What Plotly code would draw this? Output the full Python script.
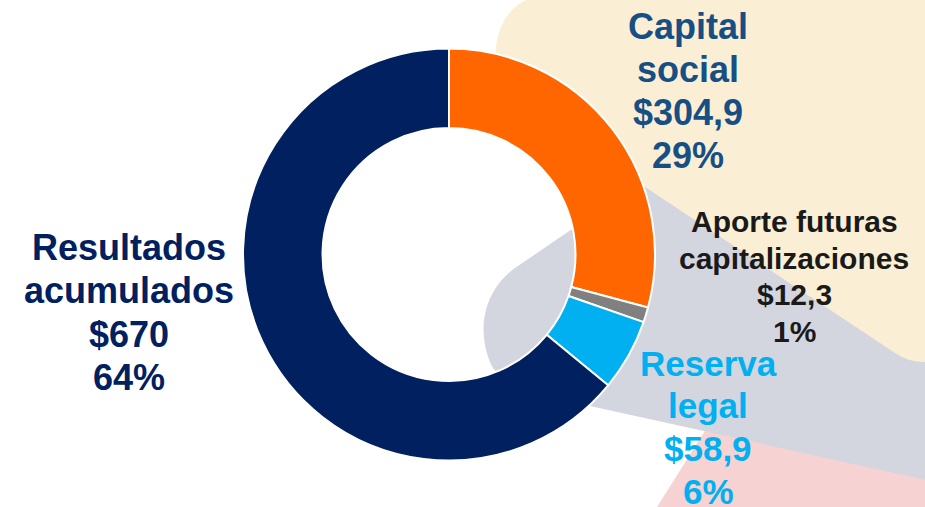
import plotly.graph_objects as go

W, H = 925, 507

# ---- data ----
labels = ["Capital social", "Aporte futuras capitalizaciones", "Reserva legal", "Resultados acumulados"]
label_lines = [["Capital", "social"], ["Aporte futuras", "capitalizaciones"], ["Reserva", "legal"], ["Resultados", "acumulados"]]
values = [304.9, 12.3, 58.9, 670]
colors = ["#FF6600", "#808080", "#00B0F0", "#002060"]
text_colors = ["#174F85", "#1A1A1A", "#00B0F0", "#002060"]

total = sum(values)


def px(x, y):
    return x / W, 1 - y / H


def fmt_money(v):
    if abs(v - round(v)) < 1e-9:
        return "$" + str(int(round(v)))
    return "$" + ("%.1f" % v).replace(".", ",")


fig = go.Figure()

# Pie geometry (pixels)
cx, cy, R = 449, 254.5, 206
x0, y1 = px(cx - R, cy - R)
x1, y0 = px(cx + R, cy + R)

fig.add_trace(go.Pie(
    labels=labels, values=values, sort=False, direction="clockwise", rotation=0,
    hole=0.614, marker=dict(colors=colors, line=dict(color="white", width=2)),
    textinfo="none", hoverinfo="none", showlegend=False,
    domain=dict(x=[x0, x1], y=[y0, y1]),
))


def svg_path(cmds):
    out = []
    for c in cmds:
        if isinstance(c, str):
            out.append(c)
        else:
            X, Y = px(*c)
            out.append("%.5f,%.5f" % (X, Y))
    return " ".join(out)


# decorative background shapes (pixel coordinates converted to paper)
pink = ["M", (652, 515), "L", (713, 418), "L", (935, 418), "L", (935, 515), "Z"]
gray = ["M", (515, 268), "L", (600, 210), "L", (700, 150), "L", (935, 300), "L", (935, 482),
        "L", (590, 406), "L", (520, 400), "L", (493, 368),
        "C", (478, 340), (478, 295), (515, 268), "Z"]
beige = ["M", (495, 100), "L", (495, 62), "Q", (495, -8), (565, -8), "L", (935, -8), "L", (935, 362),
         "L", (925, 362), "Q", (908, 362), (895, 353), "L", (600, 157), "Z"]

shapes = []
for cmds, col in [(pink, "#F7D2D2"), (gray, "#D3D5DF"), (beige, "#FAEFD4")]:
    shapes.append(dict(type="path", xref="paper", yref="paper", path=svg_path(cmds),
                       fillcolor=col, line=dict(width=0), layer="below"))

# labels: block x centre, line centres (pixels)
label_x = [687.5, 794, 708, 129]
label_y = [[26.5, 69.5, 112, 155], [221.8, 258, 294.5, 331], [363, 405.5, 448.5, 491], [247, 290.5, 334, 377.5]]
font_sizes = [36, 30, 35, 36]
annotations = []
for i in range(len(values)):
    pct = "%d%%" % round(values[i] / total * 100)
    lines = label_lines[i] + [fmt_money(values[i]), pct]
    for j, l in enumerate(lines):
        ax, ay = px(label_x[i], label_y[i][j])
        annotations.append(dict(x=ax, y=ay, xref="paper", yref="paper", text="<b>%s</b>" % l,
                                showarrow=False, xanchor="center", yanchor="middle", align="center",
                                font=dict(family="Liberation Sans, Arial, sans-serif", size=font_sizes[i],
                                          color=text_colors[i])))

fig.update_layout(width=W, height=H, margin=dict(l=0, r=0, t=0, b=0),
                  paper_bgcolor="white", plot_bgcolor="white",
                  shapes=shapes, annotations=annotations)

fig.write_html("out.html", config={"displayModeBar": False},
               post_script="document.body.style.margin='0';")
